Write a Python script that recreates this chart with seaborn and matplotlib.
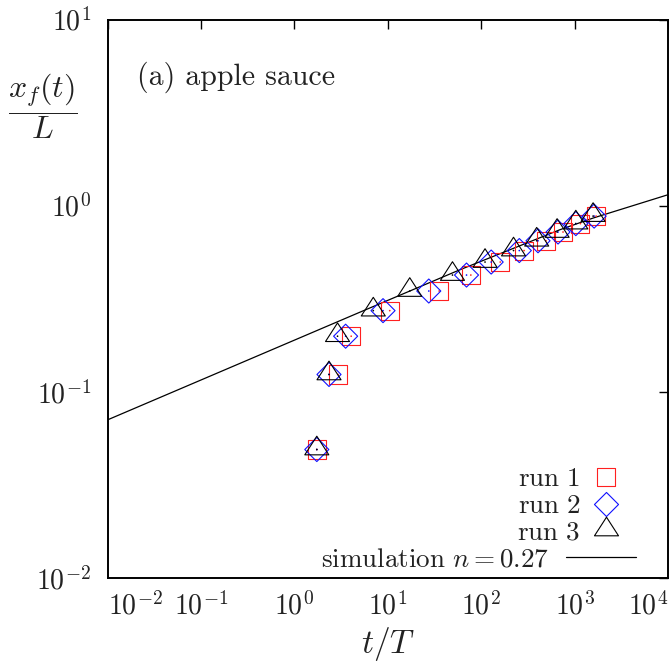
import matplotlib
matplotlib.use('Agg')
import matplotlib.pyplot as plt
from matplotlib.path import Path
from matplotlib.lines import Line2D
from matplotlib.legend import Legend
from matplotlib.ticker import NullLocator
import pandas as pd
import seaborn as sns

# front position x_f(t)/L, same levels for all three runs
front_pos = [0.049, 0.124, 0.199, 0.273, 0.348, 0.424, 0.498, 0.574, 0.648, 0.722, 0.801, 0.879]
run1_t = [1.74, 2.93, 4.06, 10.5, 35.5, 77.5, 160, 288, 494, 752, 1155, 1701]
run2_t = [1.74, 2.35, 3.54, 8.9, 27.5, 69.7, 128, 256, 406, 665, 1031, 1619]
run3_t = [1.74, 2.35, 2.90, 7.0, 17.2, 49.3, 110, 222, 393, 650, 1031, 1578]

# simulation curve
sim_t = [0.01, 5.05, 59.4, 698, 1589, 10000]
sim_x = [0.0707, 0.268, 0.453, 0.743, 0.859, 1.145]

run_labels = [r'$\mathrm{run\ 1}$', r'$\mathrm{run\ 2}$', r'$\mathrm{run\ 3}$']
sim_label = r'$\mathrm{simulation}\ n=0.27$'
panel_title = '(a) apple sauce'

xtick_vals = [1e-2, 1e-1, 1e0, 1e1, 1e2, 1e3, 1e4]
xtick_labels = [r'$10^{-2}$', r'$10^{-1}$', r'$10^{0}$', r'$10^{1}$', r'$10^{2}$', r'$10^{3}$', r'$10^{4}$']
ytick_vals = [1e-2, 1e-1, 1e0, 1e1]
ytick_labels = [r'$10^{-2}$', r'$10^{-1}$', r'$10^{0}$', r'$10^{1}$']

sns.set_theme(style='white')
plt.rcParams['font.family'] = ['cmr10', 'DejaVu Serif']
plt.rcParams['mathtext.fontset'] = 'cm'
plt.rcParams['axes.unicode_minus'] = False
plt.rcParams['font.size'] = 19.5

# gnuplot-like markers (triangle sits with its point above centre)
square = Path([(-1, -1), (1, -1), (1, 1), (-1, 1), (-1, -1)], closed=True)
diamond = Path([(0, 1), (1, 0), (0, -1), (-1, 0), (0, 1)], closed=True)
triangle = Path([(0, 13.3), (-12, -5.3), (12, -5.3), (0, 13.3)], closed=True)

fig = plt.figure(figsize=(6.69, 6.68), dpi=100)
ax = fig.add_axes([0.1607, 0.1347, 0.8378, 0.8361])
ax.set(xscale='log', yscale='log')

sim_df = pd.DataFrame({'t': sim_t, 'x': sim_x})
sns.lineplot(data=sim_df, x='t', y='x', ax=ax, color='black', lw=0.9,
             sort=False, legend=False)

runs = [(run1_t, square, '#ff2020', 170), (run2_t, diamond, '#1010ff', 300), (run3_t, triangle, 'black', 368)]
leg_handles = []
for times, mk, col, sz in runs:
    df = pd.DataFrame({'t': times, 'x': front_pos})
    sns.scatterplot(data=df, x='t', y='x', ax=ax, marker=mk, s=sz, facecolor='none',
                    edgecolor=col, linewidth=0.8, legend=False, zorder=3)
    sns.scatterplot(data=df, x='t', y='x', ax=ax, marker='o', s=1.5, color=col,
                    edgecolor='none', linewidth=0, legend=False, zorder=3)
    leg_handles.append(Line2D([], [], ls='none', marker=mk, markersize=sz ** 0.5,
                              markerfacecolor='none', markeredgecolor=col, markeredgewidth=0.8))
leg_handles.append(Line2D([], [], color='black', lw=0.9))

ax.set_xlim(1e-2, 1e4)
ax.set_ylim(1e-2, 1e1)
ax.set_xticks(xtick_vals)
ax.set_xticklabels(xtick_labels)
ax.set_yticks(ytick_vals)
ax.set_yticklabels(ytick_labels)
ax.xaxis.set_minor_locator(NullLocator())
ax.yaxis.set_minor_locator(NullLocator())
ax.tick_params(which='major', direction='in', length=6.5, width=1.0, color='black',
               top=True, right=True, labelsize=20, labelcolor='#222222')
ax.tick_params(axis='x', pad=10)
ax.tick_params(axis='y', pad=12)
xl = ax.get_xticklabels()
xl[0].set_ha('left')
xl[-1].set_ha('right')
for sp in ax.spines.values():
    sp.set_color('black')
    sp.set_linewidth(1.4)

ax.set_xlabel(r'$t/T$', fontsize=24, color='#222222')
ax.xaxis.set_label_coords(0.5, -0.085)
ax.set_ylabel(r'$\dfrac{x_f(t)}{L}$', fontsize=23, rotation=0, ha='center', va='center',
              color='#222222')
ax.yaxis.set_label_coords(-0.115, 0.845)

ax.text(0.052, 0.883, panel_title, transform=ax.transAxes, fontsize=21.5,
        va='baseline', ha='left', color='#222222')

# one row per key so that the labels line up on the right like gnuplot's key
row_x = [0.953, 0.953, 0.953, 0.943]
row_y = [0.1555, 0.1075, 0.0605, 0.0125]
row_pad = [-0.34, -0.34, -0.34, 0.62]
for h, lab, x, y, pad in zip(leg_handles, run_labels + [sim_label], row_x, row_y, row_pad):
    leg = Legend(ax, [h], [lab], loc='lower right', bbox_to_anchor=(x, y),
                 bbox_transform=ax.transAxes, frameon=False, markerfirst=False,
                 numpoints=1, handlelength=2.6, handletextpad=pad, borderpad=0,
                 borderaxespad=0, fontsize=19.5, labelcolor='#222222')
    ax.add_artist(leg)

fig.savefig('out.png', dpi=100)
plt.close(fig)
